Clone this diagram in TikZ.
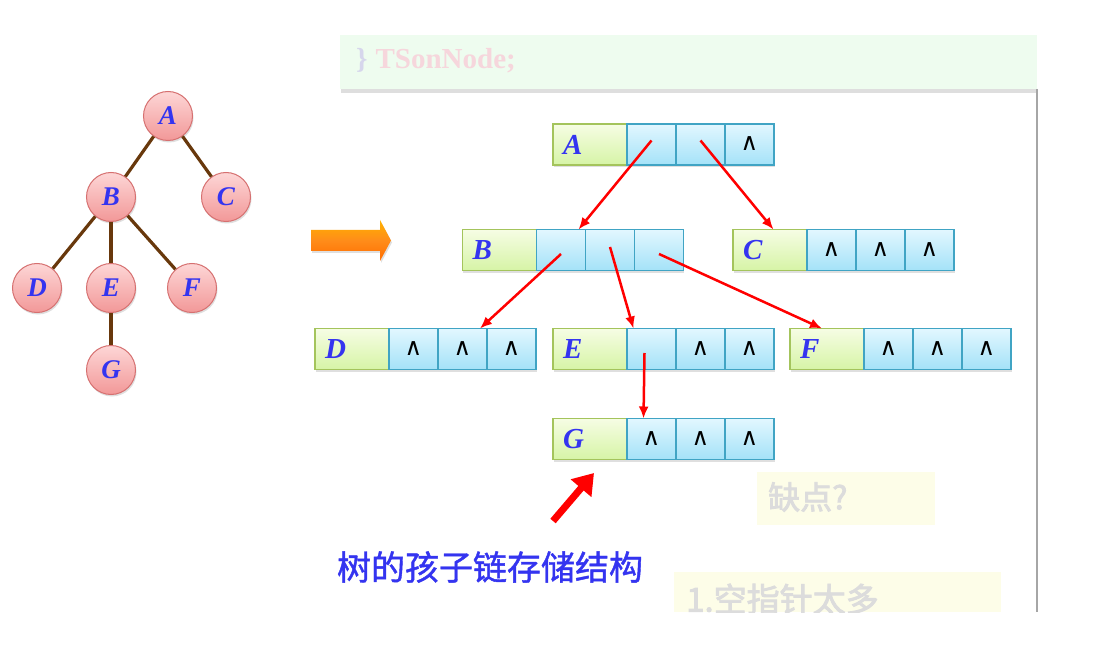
\documentclass[tikz,border=0pt]{standalone}
\usepackage{fontspec}
\setmainfont{Liberation Serif}
\newfontfamily\cjk{Noto Sans CJK SC}
\newfontfamily\cjkb[FakeBold=1.2]{Noto Sans CJK SC}
\newfontfamily\cjkbb[FakeBold=2.5]{Noto Sans CJK SC}
\newfontfamily\dvs{DejaVu Sans}
\usetikzlibrary{arrows.meta,shadows,calc}
\definecolor{letterblue}{RGB}{52,52,240}
\definecolor{circtop}{RGB}{253,214,214}
\definecolor{circbot}{RGB}{242,152,152}
\definecolor{circedge}{RGB}{214,112,112}
\definecolor{edgebrown}{RGB}{104,56,12}
\definecolor{dtop}{RGB}{246,253,228}
\definecolor{dbot}{RGB}{214,244,166}
\definecolor{dedge}{RGB}{164,196,92}
\definecolor{ptop}{RGB}{226,247,255}
\definecolor{pbot}{RGB}{164,226,248}
\definecolor{pedge}{RGB}{64,164,196}
\definecolor{fadegreen}{RGB}{238,252,239}
\definecolor{fadeyellow}{RGB}{253,253,232}
\definecolor{fadegray}{RGB}{220,220,220}
\definecolor{fadepink}{RGB}{246,214,220}
\definecolor{fadeblue}{RGB}{214,214,236}
\tikzset{
  tcirc/.style={circle, minimum size=49pt, inner sep=0pt, draw=circedge, line width=1pt,
    top color=circtop, bottom color=circbot,
    drop shadow={shadow xshift=1pt, shadow yshift=-2pt, opacity=0.25},
    font=\fontsize{27}{27}\selectfont\bfseries\itshape, text=letterblue},
  tedge/.style={draw=edgebrown, line width=3.2pt},
  dfield/.style={rectangle, draw=dedge, line width=1.1pt, top color=dtop, bottom color=dbot,
    minimum height=41pt, inner ysep=0pt, inner xsep=10pt, text width=54pt, align=left,
    outer sep=0pt, font=\fontsize{29}{29}\selectfont\bfseries\itshape, text=letterblue,
    drop shadow={shadow xshift=0.5pt, shadow yshift=-2.5pt, opacity=0.25}},
  pfield/.style={rectangle, draw=pedge, line width=1.1pt, top color=ptop, bottom color=pbot,
    minimum height=41pt, minimum width=49pt, inner sep=0pt, outer sep=0pt,
    font=\dvs\fontsize{24}{24}\selectfont, text=black,
    drop shadow={shadow xshift=0.5pt, shadow yshift=-2.5pt, opacity=0.25}},
  ptr/.style={draw=red, line width=2.5pt, -{Latex[length=12pt,width=10pt]}},
}
\newcommand\nul{\raisebox{1pt}{∧}}
\newcommand\mkrecord[7]{%
  \node[dfield, anchor=north west] (#1) at (#2,#3) {#4};
  \node[pfield, anchor=west] (#11) at (#1.east) {#5};
  \node[pfield, anchor=west] (#12) at (#11.east) {#6};
  \node[pfield, anchor=west] (#13) at (#12.east) {#7};
}
\begin{document}
\begin{tikzpicture}[x=1pt,y=-1pt]
\useasboundingbox[fill=white] (0,0) rectangle (1105,652);

% faded background slide content
\fill[black!25, opacity=0.5] (341,88) rectangle (1037,93);
\fill[fadegreen] (340,35) rectangle (1037,89);
\node[anchor=west, font=\fontsize{29}{29}\selectfont\bfseries, inner sep=0pt] (tson) at (356,61)
  {\textcolor{fadeblue}{\}}\hspace{8pt}\textcolor{fadepink}{TSonNode;}};
\draw[gray!70, line width=1.2pt] (1037,89) -- (1037,612);
\fill[fadeyellow] (757,472) rectangle (935,525);
\node[anchor=west, font=\cjkbb\fontsize{32}{32}\selectfont, text=fadegray, inner sep=0pt] (quexian) at (768,497) {缺点?};
\begin{scope}
\clip (674,572) rectangle (1001,612);
\fill[fadeyellow] (674,572) rectangle (1001,612);
\node[anchor=west, font=\cjkbb\fontsize{33}{33}\selectfont, text=fadegray, inner sep=0pt] (kongzhizhen) at (686,599) {1.空指针太多};
\end{scope}

% tree
\node[tcirc] (tA) at (168,116) {A};
\node[tcirc] (tB) at (111,197) {B};
\node[tcirc] (tC) at (226,197) {C};
\node[tcirc] (tD) at (37,288) {D};
\node[tcirc] (tE) at (111,288) {E};
\node[tcirc] (tF) at (192,288) {F};
\node[tcirc] (tG) at (111,370) {G};
\draw[tedge] (tA) -- (tB);
\draw[tedge] (tA) -- (tC);
\draw[tedge] (tB) -- (tD);
\draw[tedge] (tB) -- (tE);
\draw[tedge] (tB) -- (tF);
\draw[tedge] (tE) -- (tG);

% orange arrow
\shade[top color=orange!60!yellow, bottom color=orange!85!red, middle color=orange!90,
  drop shadow={shadow xshift=1pt, shadow yshift=-2pt, opacity=0.25}]
  (311,230) -- (380,230) -- (380,220) -- (391,240.5) -- (380,261) -- (380,251) -- (311,251) -- cycle;

% records
\mkrecord{rA}{553}{124}{A}{}{}{\nul}
\mkrecord{rB}{462.5}{229.5}{B}{}{}{}
\mkrecord{rC}{733}{229.5}{C}{\nul}{\nul}{\nul}
\mkrecord{rD}{315}{328.5}{D}{\nul}{\nul}{\nul}
\mkrecord{rE}{553}{328.5}{E}{}{\nul}{\nul}
\mkrecord{rF}{790}{328.5}{F}{\nul}{\nul}{\nul}
\mkrecord{rG}{553}{418.5}{G}{\nul}{\nul}{\nul}

% pointers
\draw[ptr] ([yshift=4pt]rA1.center) -- ([xshift=17.5pt]rB1.north);
\draw[ptr] ([yshift=4pt]rA2.center) -- ([xshift=3.5pt]rC.north);
\draw[ptr] ([yshift=-4pt]rB1.center) -- ([xshift=17.5pt]rD2.north);
\draw[ptr] ([yshift=3pt]rB2.center) -- ([xshift=-18pt]rE1.north);
\draw[ptr] ([yshift=-4pt]rB3.center) -- ([xshift=-5pt]rF.north);
\draw[ptr] ([xshift=-7pt,yshift=-4pt]rE1.center) -- ([xshift=-8pt]rG1.north);

% big red arrow and caption
\coordinate (bigS) at (553,521);
\coordinate (bigT) at (594,473);
\draw[draw=red, line width=7pt, -{Triangle[length=20pt,width=26pt]}] (bigS) -- (bigT);
\node[font=\cjkb\fontsize{34}{34}\selectfont, text=letterblue, inner sep=0pt] (caption) at (490,567) {树的孩子链存储结构};
\end{tikzpicture}
\end{document}
